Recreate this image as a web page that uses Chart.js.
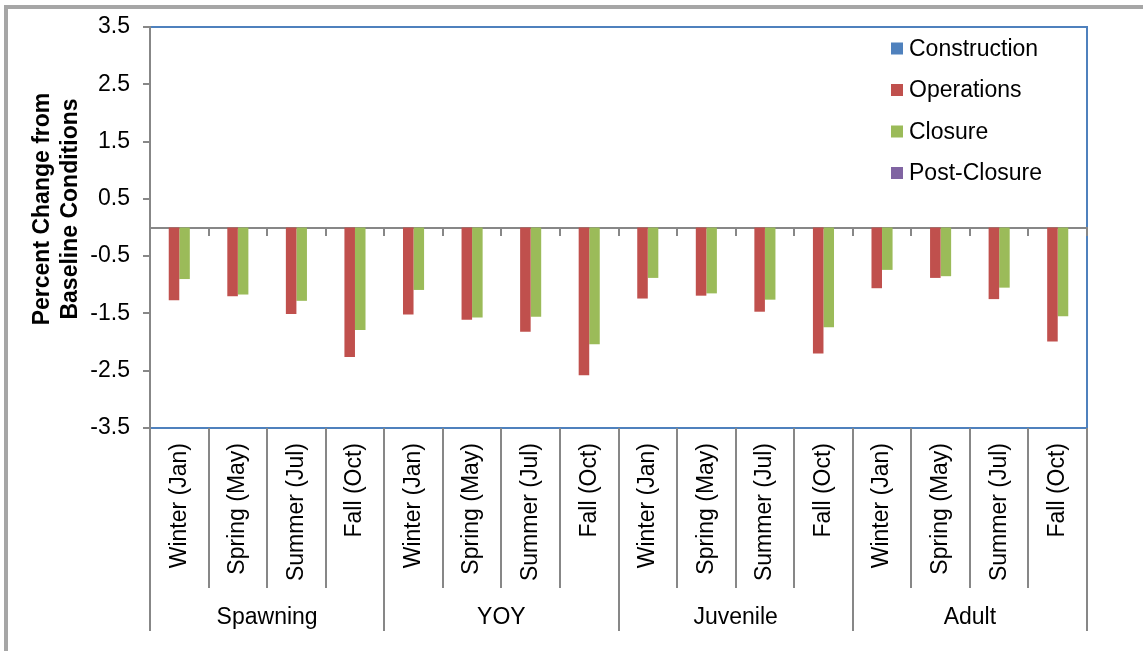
<!DOCTYPE html>
<html>
<head>
<meta charset="utf-8">
<title>Percent Change from Baseline Conditions</title>
<script src="https://cdn.jsdelivr.net/npm/chart.js@4"></script>
<style>
  html, body { margin: 0; padding: 0; background: #fff; }
  #chart { display: block; }
</style>
</head>
<body>
<canvas id="chart" width="1143" height="651"></canvas>
<script>
// Life stages and the sampled seasons within each one
const groups = ["Spawning", "YOY", "Juvenile", "Adult"];
const seasons = ["Winter (Jan)", "Spring (May)", "Summer (Jul)", "Fall (Oct)"];

// Percent change from baseline, one value per stage/season
const construction = [0, 0, 0, 0, 0, 0, 0, 0, 0, 0, 0, 0, 0, 0, 0, 0];
const operations = [-1.27, -1.20, -1.51, -2.26, -1.52, -1.61, -1.82, -2.58, -1.24, -1.19, -1.47, -2.20, -1.06, -0.88, -1.25, -1.99];
const closure = [-0.90, -1.17, -1.28, -1.79, -1.09, -1.57, -1.56, -2.04, -0.88, -1.15, -1.26, -1.74, -0.74, -0.85, -1.05, -1.55];
const postClosure = [0, 0, 0, 0, 0, 0, 0, 0, 0, 0, 0, 0, 0, 0, 0, 0];

const yTicks = [-3.5, -2.5, -1.5, -0.5, 0.5, 1.5, 2.5, 3.5];

const labels = [];
groups.forEach(() => seasons.forEach(s => labels.push(s)));

const FONT = "'Liberation Sans', Arial, sans-serif";
const AXIS_GRAY = "#878787";
const PLOT_BLUE = "#4f81bd";

// frame around the figure and the plot area border
const framePlugin = {
    id: "frame",
    beforeDraw(chart) {
        const { ctx, chartArea: a } = chart;
        ctx.save();
        ctx.fillStyle = "#a6a6a6";
        ctx.fillRect(4, 5, 4, 646);
        ctx.fillRect(4, 5, 1139, 4);
        ctx.strokeStyle = PLOT_BLUE;
        ctx.lineWidth = 2;
        ctx.strokeRect(a.left, a.top, a.right - a.left, a.bottom - a.top);
        ctx.restore();
    },
    afterDraw(chart) {
        const ctx = chart.ctx;
        ctx.save();
        // y axis title, two lines
        ctx.fillStyle = "#000";
        ctx.font = "bold 23px " + FONT;
        ctx.textAlign = "center";
        ctx.textBaseline = "middle";
        ctx.translate(57, 209);
        ctx.rotate(-Math.PI / 2);
        ctx.fillText("Percent Change from", 0, -14);
        ctx.fillText("Baseline Conditions", 0, 14);
        ctx.restore();

        // legend inside the plot, top right
        ctx.save();
        ctx.font = "23px " + FONT;
        ctx.textBaseline = "middle";
        chart.data.datasets.forEach((ds, i) => {
            const cy = 48.5 + i * 41.5;
            ctx.fillStyle = ds.backgroundColor;
            ctx.fillRect(891, cy - 6, 12, 12);
            ctx.fillStyle = "#000";
            ctx.fillText(ds.label, 909, cy + 1);
        });
        ctx.restore();
    }
};

new Chart(document.getElementById("chart"), {
    type: "bar",
    data: {
        labels: labels,
        datasets: [
            { label: "Construction", data: construction, backgroundColor: "#4f81bd", xAxisID: "x" },
            { label: "Operations", data: operations, backgroundColor: "#c0504d", xAxisID: "x" },
            { label: "Closure", data: closure, backgroundColor: "#9bbb59", xAxisID: "x" },
            { label: "Post-Closure", data: postClosure, backgroundColor: "#8064a2", xAxisID: "x" }
        ]
    },
    options: {
        responsive: false,
        animation: false,
        categoryPercentage: 0.72,
        barPercentage: 1.0,
        layout: { padding: { left: 0, top: 27, right: 56, bottom: 0 } },
        plugins: {
            legend: { display: false },
            tooltip: { enabled: false }
        },
        scales: {
            y: {
                min: -3.5,
                max: 3.5,
                afterFit: s => { s.width = 150; },
                afterBuildTicks: s => { s.ticks = yTicks.map(v => ({ value: v })); },
                border: { display: true, color: AXIS_GRAY, width: 2 },
                grid: { drawOnChartArea: false, tickLength: 7, color: AXIS_GRAY, lineWidth: 2 },
                ticks: {
                    padding: 13,
                    color: "#000",
                    font: { family: FONT, size: 23 },
                    callback: v => v.toFixed(1)
                }
            },
            // season labels with separators below the plot
            x: {
                type: "category",
                position: "bottom",
                weight: 0,
                offset: true,
                afterFit: s => { s.height = 160; },
                border: { display: false },
                grid: { offset: true, drawOnChartArea: false, tickLength: 160, color: AXIS_GRAY, lineWidth: 2 },
                ticks: {
                    autoSkip: false,
                    minRotation: 90,
                    maxRotation: 90,
                    padding: -145,
                    color: "#000",
                    font: { family: FONT, size: 23 }
                }
            },
            // life stage labels
            x2: {
                type: "category",
                axis: "x",
                labels: groups,
                position: "bottom",
                weight: 1,
                offset: true,
                afterFit: s => { s.height = 63; },
                border: { display: false },
                grid: { offset: true, drawOnChartArea: false, tickLength: 43, color: AXIS_GRAY, lineWidth: 2 },
                ticks: {
                    autoSkip: false,
                    maxRotation: 0,
                    padding: -27,
                    color: "#000",
                    font: { family: FONT, size: 23 }
                }
            },
            // axis line across zero with short ticks
            xz: {
                type: "category",
                axis: "x",
                position: { y: 0 },
                offset: true,
                z: 1,
                border: { display: true, color: AXIS_GRAY, width: 2 },
                grid: { offset: true, drawOnChartArea: false, tickLength: 7, color: AXIS_GRAY, lineWidth: 2 },
                ticks: { display: false }
            }
        }
    },
    plugins: [framePlugin]
});
</script>
</body>
</html>
